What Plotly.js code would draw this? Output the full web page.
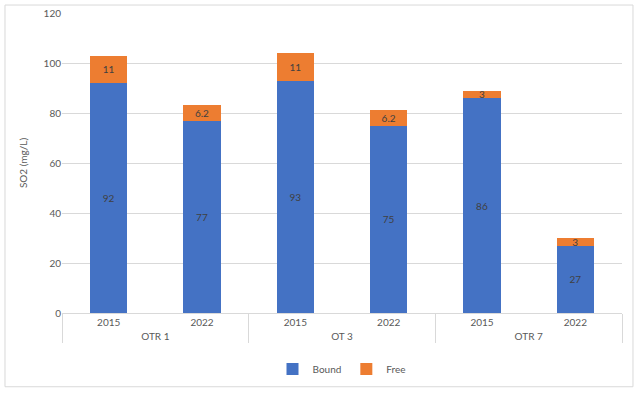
<!DOCTYPE html>
<html><head><meta charset="utf-8">
<script src="https://cdn.plot.ly/plotly-3.0.1.min.js"></script>
<style>html,body{margin:0;padding:0;background:#fff}#chart{width:640px;height:394px}</style>
</head><body><div id="chart"></div>
<script>
const groups = ["OTR 1", "OTR 1", "OT 3", "OT 3", "OTR 7", "OTR 7"];
const years = ["2015", "2022", "2015", "2022", "2015", "2022"];
const bound = [92, 77, 93, 75, 86, 27];
const free = [11, 6.2, 11, 6.2, 3, 3];
const seriesNames = ["Bound", "Free"];
const colors = ["#4472C4", "#ED7D31"];

const font = {family: "Lato, 'Open Sans', sans-serif", size: 10, color: "#595959"};

const mk = (vals, i) => ({
  type: "bar",
  name: seriesNames[i],
  x: [groups, years],
  y: vals,
  marker: {color: colors[i]},
  text: vals.map(String),
  textposition: "inside",
  insidetextanchor: "middle",
  textangle: 0,
  constraintext: "none",
  textfont: {family: font.family, size: 10, color: "#404040"},
  hoverinfo: "x+y+name"
});

const layout = {
  width: 640, height: 394,
  margin: {l: 62, r: 18, t: 13, b: 80},
  barmode: "stack",
  bargap: 0.6,
  font: font,
  paper_bgcolor: "#fff",
  plot_bgcolor: "#fff",
  xaxis: {
    type: "multicategory",
    showline: true, linecolor: "#d9d9d9", linewidth: 1,
    showdividers: true, dividercolor: "#d9d9d9", dividerwidth: 1,
    tickfont: {family: font.family, size: 10, color: "#595959"},
    ticks: ""
  },
  yaxis: {
    range: [0, 120], dtick: 20,
    gridcolor: "#d9d9d9", gridwidth: 1,
    zeroline: false,
    showline: false,
    tickfont: {family: font.family, size: 10, color: "#595959"},
    ticklen: 0, ticks: "",
    title: {text: "SO2 (mg/L)", font: {family: font.family, size: 10, color: "#595959"}, standoff: 14}
  },
  legend: {
    orientation: "h", x: 0.5, xanchor: "center", y: -0.183, yanchor: "middle",
    font: {family: font.family, size: 10, color: "#595959"},
    itemwidth: 30, traceorder: "normal"
  },
  shapes: [{
    type: "rect", xref: "paper", yref: "paper",
    x0: -0.1018, x1: 1.0196, y0: -0.2458, y1: 1.0266,
    line: {color: "#d9d9d9", width: 1}, layer: "below"
  }]
};

Plotly.newPlot("chart", [mk(bound, 0), mk(free, 1)], layout, {displayModeBar: false, staticPlot: true});
</script></body></html>
